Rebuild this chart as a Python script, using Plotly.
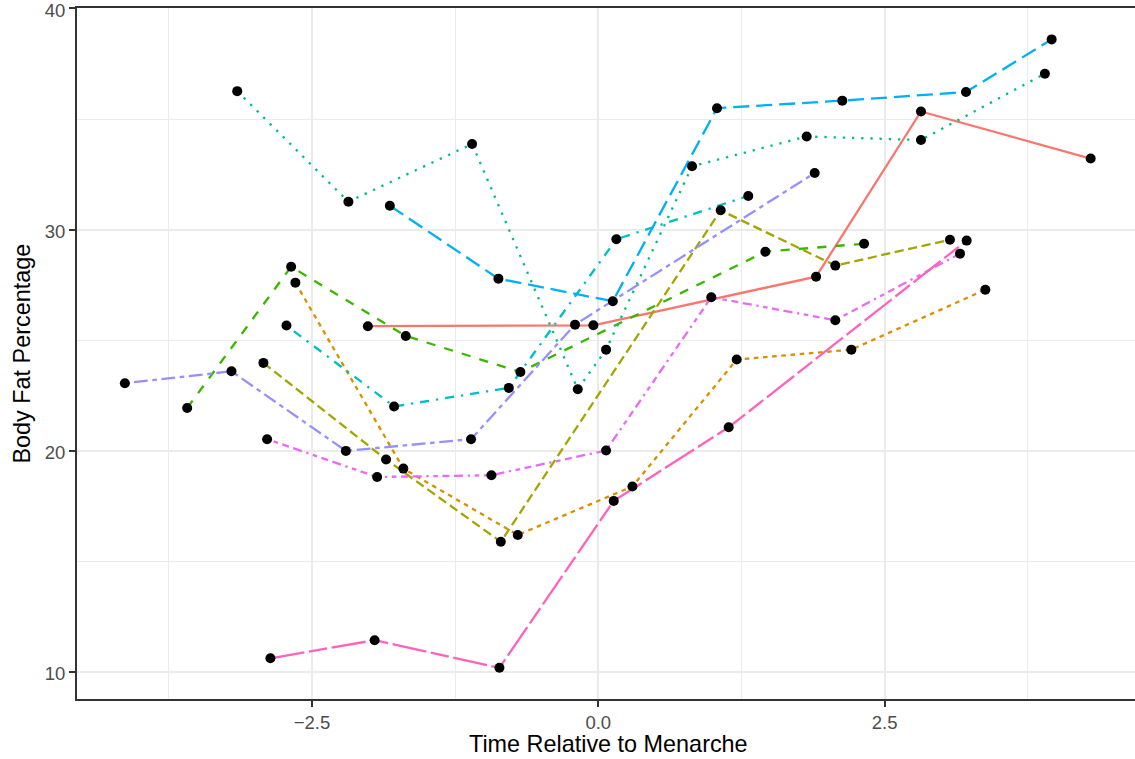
import plotly.graph_objects as go

# ---- data ----
red_x = [-2.012, -0.043, 1.902, 2.818, 4.300]
red_y = [25.63, 25.67, 27.87, 35.34, 33.21]

orange_x = [-2.645, -1.702, -0.703, 0.298, 1.209, 2.210, 3.380]
orange_y = [27.60, 19.19, 16.19, 18.38, 24.12, 24.57, 27.28]

olive_x = [-2.924, -1.853, -0.851, 1.069, 2.070, 3.071]
olive_y = [23.97, 19.60, 15.88, 30.87, 28.37, 29.54]

green_x = [-3.590, -2.682, -1.681, -0.680, 1.459, 2.321]
green_y = [21.93, 28.32, 25.19, 23.56, 29.00, 29.36]

teal_x = [-3.153, -2.182, -1.102, -0.179, 0.068, 0.819, 1.820, 2.818, 3.900]
teal_y = [36.26, 31.26, 33.87, 22.78, 24.57, 32.86, 34.21, 34.05, 37.05]

cyan_x = [-2.723, -1.783, -0.781, 0.158, 1.310]
cyan_y = [25.66, 22.00, 22.84, 29.56, 31.52]

blue_x = [-1.820, -0.872, 0.127, 1.037, 2.131, 3.211, 3.959]
blue_y = [31.08, 27.78, 26.76, 35.49, 35.83, 36.22, 38.60]

purple_x = [-4.134, -3.203, -2.204, -1.111, -0.203, 1.890]
purple_y = [23.05, 23.59, 19.99, 20.52, 25.70, 32.56]

magenta_x = [-2.892, -1.931, -0.933, 0.068, 0.987, 2.070, 3.159]
magenta_y = [20.52, 18.81, 18.89, 20.01, 26.94, 25.90, 28.91]

pink_x = [-2.863, -1.953, -0.863, 0.135, 1.139, 3.217]
pink_y = [10.61, 11.43, 10.18, 17.73, 21.06, 29.50]

subjects = ["1", "2", "3", "4", "5", "6", "7", "8", "9", "10"]
xs = [red_x, orange_x, olive_x, green_x, teal_x, cyan_x, blue_x, purple_x, magenta_x, pink_x]
ys = [red_y, orange_y, olive_y, green_y, teal_y, cyan_y, blue_y, purple_y, magenta_y, pink_y]

colors = ["#F8766D", "#D89000", "#A3A500", "#39B600", "#00BF7D",
          "#00BFC4", "#00B0F6", "#9590FF", "#E76BF3", "#FF62BC"]
linetypes = ["solid", "22", "42", "44", "13", "1343", "73", "2262", "12223242", "F282"]

x_title = "Time Relative to Menarche"
y_title = "Body Fat Percentage"

LW = 2.3  # line width in px, also the dash unit


def dash_of(lt):
    if lt == "solid":
        return "solid"
    return ",".join(f"{int(c, 16) * LW:.1f}px" for c in lt)


fig = go.Figure()
for name, x, y, col, lt in zip(subjects, xs, ys, colors, linetypes):
    fig.add_trace(go.Scatter(x=x, y=y, mode="lines", name=name,
                             line=dict(color=col, width=LW, dash=dash_of(lt)),
                             showlegend=False, hoverinfo="skip"))
for name, x, y in zip(subjects, xs, ys):
    fig.add_trace(go.Scatter(x=x, y=y, mode="markers", name=name,
                             marker=dict(color="black", size=10, line=dict(width=0)),
                             showlegend=False))

font_family = "Liberation Sans, Arial, Helvetica, sans-serif"
tickfont = dict(family=font_family, size=18.5, color="#4D4D4D")

fig.update_layout(
    width=1135, height=759,
    margin=dict(l=77, r=0, t=8, b=60, autoexpand=False),
    paper_bgcolor="white", plot_bgcolor="white",
    font=dict(family=font_family),
    xaxis=dict(
        range=[-4.552, 4.687], tick0=0, dtick=2.5, tickformat=".1f",
        showgrid=True, gridcolor="#EBEBEB", gridwidth=2.2,
        minor=dict(dtick=1.25, tick0=0, showgrid=True, gridcolor="#EBEBEB", gridwidth=1.1),
        ticks="outside", ticklen=6, tickwidth=2, tickcolor="#333333",
        showline=True, linecolor="#333333", linewidth=2, mirror=True,
        zeroline=False, tickfont=tickfont, ticklabeloverflow="allow",
    ),
    yaxis=dict(
        range=[8.77, 40.02], tick0=0, dtick=10,
        showgrid=True, gridcolor="#EBEBEB", gridwidth=2.2,
        minor=dict(dtick=5, tick0=0, showgrid=True, gridcolor="#EBEBEB", gridwidth=1.1),
        ticks="outside", ticklen=6, tickwidth=2, tickcolor="#333333",
        showline=True, linecolor="#333333", linewidth=2, mirror=False,
        zeroline=False, tickfont=tickfont, ticklabeloverflow="allow",
        ticklabelshift=2,
    ),
    annotations=[
        dict(text=x_title, xref="paper", yref="paper", x=0.5019, y=-0.0651,
             xanchor="center", yanchor="middle", showarrow=False,
             font=dict(family=font_family, size=23.4, color="black")),
        dict(text=y_title, xref="paper", yref="paper", x=-0.0529, y=0.5,
             xanchor="center", yanchor="middle", showarrow=False, textangle=-90,
             font=dict(family=font_family, size=23.4, color="black")),
    ],
)

fig.write_html("out.html")
